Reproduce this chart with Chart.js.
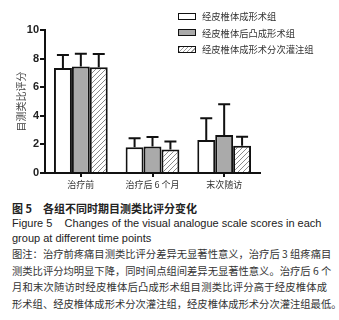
<!DOCTYPE html>
<html>
<head>
<meta charset="utf-8">
<script src="https://cdn.jsdelivr.net/npm/chart.js@4.4.0/dist/chart.umd.min.js"></script>
<style>
  body { margin: 0; background: #fff; }
  #wrap { position: relative; width: 339px; height: 320px; overflow: hidden; font-family: "Liberation Sans", Arial, "Noto Sans CJK SC", sans-serif; }
  #c { position: absolute; left: 0; top: 0; }
  #legend { position: absolute; left: 178px; top: 8px; font-size: 9.3px; color: #333; font-family: "Noto Sans CJK SC", sans-serif; }
  .item { position: relative; height: 16.6px; line-height: 16.6px; padding-left: 24px; white-space: nowrap; }
  .box { position: absolute; left: 0; top: 4.5px; width: 16px; height: 5px; border: 1.5px solid #111; }
  #cap { position: absolute; left: 12px; top: 200px; width: 315px; color: #222; }
  .t1 { font-family: "Noto Sans CJK SC", sans-serif; font-size: 11px; font-weight: bold; height: 16px; line-height: 16px; white-space: pre; }
  .en { font-size: 11px; height: 15px; line-height: 15px; white-space: pre; }
  .zh { font-family: "Noto Sans CJK SC", sans-serif; font-size: 10.3px; color: #333; height: 16.5px; line-height: 16.5px; text-align: justify; text-align-last: justify; white-space: nowrap; }
</style>
</head>
<body>
<div id="wrap">
  <canvas id="c" width="339" height="200"></canvas>
  <div id="legend"></div>
  <div id="cap">
    <div class="t1">图 5　各组不同时期目测类比评分变化</div>
    <div class="en">Figure 5    Changes of the visual analogue scale scores in each</div>
    <div class="en">group at different time points</div>
    <div class="zh">图注：治疗前疼痛目测类比评分差异无显著性意义，治疗后 3 组疼痛目</div>
    <div class="zh">测类比评分均明显下降，同时间点组间差异无显著性意义。治疗后 6 个</div>
    <div class="zh">月和末次随访时经皮椎体后凸成形术组目测类比评分高于经皮椎体成</div>
    <div class="zh">形术组、经皮椎体成形术分次灌注组，经皮椎体成形术分次灌注组最低。</div>
  </div>
</div>
<script>
const categories = ['治疗前', '治疗后 6 个月', '末次随访'];
const groups = ['经皮椎体成形术组', '经皮椎体后凸成形术组', '经皮椎体成形术分次灌注组'];
const pvpMean = [7.35, 1.8, 2.3];
const pvpSd = [0.91, 0.63, 1.52];
const pkpMean = [7.45, 1.85, 2.65];
const pkpSd = [0.89, 0.67, 2.15];
const fracMean = [7.4, 1.65, 1.9];
const fracSd = [0.93, 0.56, 0.63];

// hatch pattern for 3rd group
function makeHatch() {
    const p = document.createElement('canvas');
    p.width = 5; p.height = 5;
    const g = p.getContext('2d');
    g.fillStyle = '#fff';
    g.fillRect(0, 0, 5, 5);
    g.strokeStyle = '#8a8a8a';
    g.lineWidth = 1;
    g.beginPath();
    g.moveTo(0, 5); g.lineTo(5, 0);
    g.moveTo(-1, 1); g.lineTo(1, -1);
    g.moveTo(4, 6); g.lineTo(6, 4);
    g.stroke();
    return g.createPattern(p, 'repeat');
}

const hatch = makeHatch();
const fills = ['#ffffff', '#aaaaaa', hatch];

// legend in html
const legend = document.getElementById('legend');
groups.forEach((name, i) => {
    const row = document.createElement('div');
    row.className = 'item';
    const box = document.createElement('span');
    box.className = 'box';
    if (i === 2) {
        box.style.background = 'repeating-linear-gradient(-45deg, #fff 0 2px, #999 2px 3px)';
    } else {
        box.style.background = fills[i];
    }
    row.appendChild(box);
    row.appendChild(document.createTextNode(name));
    legend.appendChild(row);
});

const errorBars = {
    id: 'errorBars',
    afterDatasetsDraw(chart) {
        const ctx = chart.ctx;
        const y = chart.scales.y;
        ctx.save();
        ctx.strokeStyle = '#111';
        ctx.lineWidth = 2;
        chart.data.datasets.forEach((ds, i) => {
            const meta = chart.getDatasetMeta(i);
            meta.data.forEach((bar, j) => {
                const top = y.getPixelForValue(ds.data[j] + ds.sd[j]);
                ctx.beginPath();
                ctx.moveTo(bar.x, bar.y);
                ctx.lineTo(bar.x, top);
                ctx.moveTo(bar.x - 6, top);
                ctx.lineTo(bar.x + 6, top);
                ctx.stroke();
            });
        });
        ctx.restore();
    }
};

new Chart(document.getElementById('c'), {
    type: 'bar',
    data: {
        labels: categories,
        datasets: [
            { label: groups[0], data: pvpMean, sd: pvpSd, backgroundColor: fills[0] },
            { label: groups[1], data: pkpMean, sd: pkpSd, backgroundColor: fills[1] },
            { label: groups[2], data: fracMean, sd: fracSd, backgroundColor: fills[2] },
        ],
    },
    options: {
        responsive: false,
        animation: false,
        layout: { padding: { top: 30, right: 79, left: 0, bottom: 0 } },
        datasets: {
            bar: {
                borderColor: '#111',
                borderWidth: 2,
                categoryPercentage: 0.75,
                barPercentage: 1,
            },
        },
        plugins: {
            legend: { display: false },
            tooltip: { enabled: false },
        },
        scales: {
            x: {
                afterFit: (s) => { s.height = 27; },
                grid: { offset: false, drawOnChartArea: false, drawTicks: true, tickLength: 4, color: '#111', lineWidth: 2 },
                border: { color: '#111', width: 2 },
                ticks: { color: '#333', padding: 2, font: { size: 9, family: '"Noto Sans CJK SC", sans-serif' } },
            },
            y: {
                min: 0,
                max: 10,
                afterFit: (s) => { s.width = 45; },
                ticks: { stepSize: 2, color: '#222', padding: 1, font: { size: 11, weight: 'bold', family: '"Liberation Sans", Arial' } },
                grid: { drawOnChartArea: false, drawTicks: true, tickLength: 5, color: '#111', lineWidth: 2 },
                border: { color: '#111', width: 2 },
                title: {
                    display: true,
                    text: '目测类比评分',
                    color: '#444',
                    padding: { top: 15, bottom: 0 },
                    font: { size: 10, family: '"Noto Sans CJK SC", sans-serif' },
                },
            },
        },
    },
    plugins: [errorBars],
});
</script>
</body>
</html>
